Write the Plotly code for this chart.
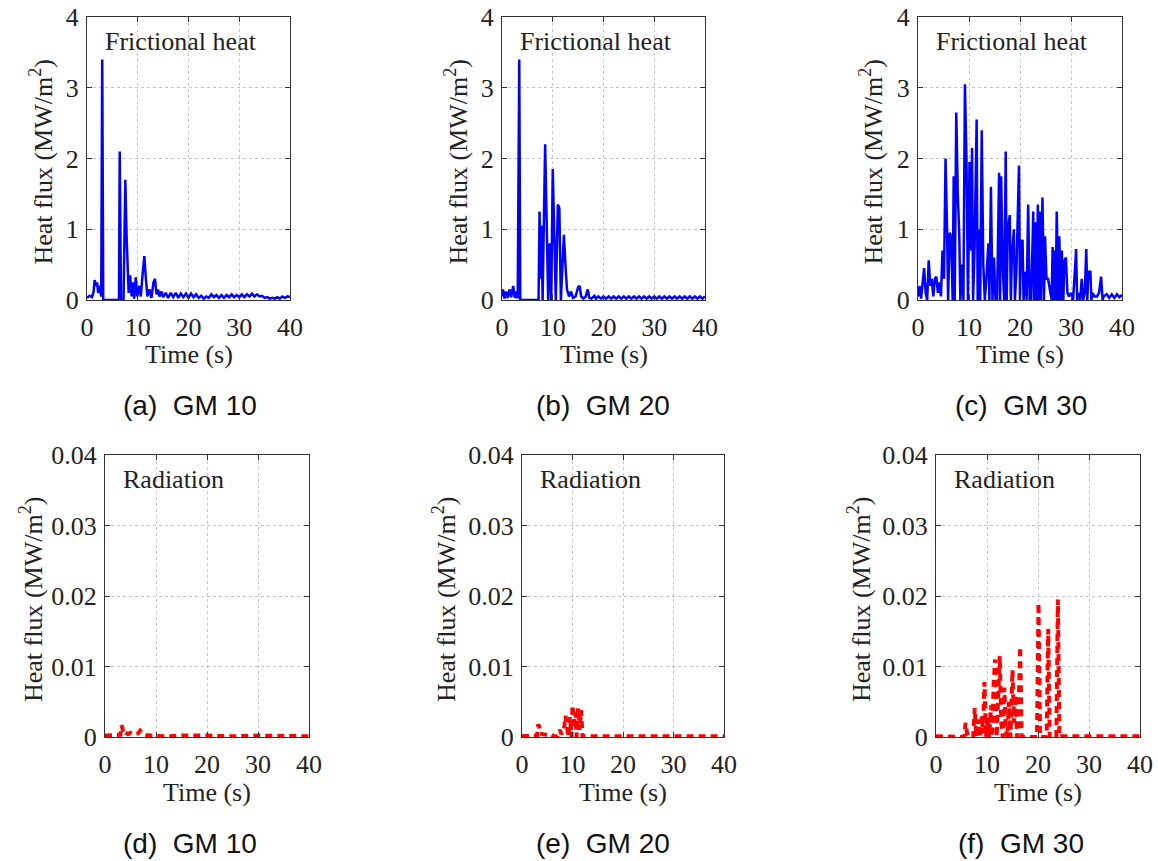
"""
Six-panel heat-flux figure: frictional heat (top, blue) and radiation
(bottom, red dashed) for ground motions GM 10, GM 20 and GM 30.
"""
import plotly.graph_objects as go

W, H = 1158, 861

# ---- data (time in s, heat flux in MW/m^2) ----
GM10_FRIC_T = [0, 0.5, 1.0, 1.3, 1.5, 1.8, 2.0, 2.2, 2.5, 2.8, 3.0, 3.2, 3.4, 6.3, 6.45, 6.7,
               7.2, 7.55, 7.8, 8.0, 8.2, 8.5, 8.8, 9.0, 9.3, 9.6, 9.9, 10.3, 10.6, 11.0, 11.3,
               11.6, 11.9, 12.3, 12.7, 13.1, 13.4, 13.7, 14.0, 14.3, 14.7, 15.0, 15.5, 16, 16.5,
               17, 17.5, 18, 18.5, 19, 19.5, 20, 20.5, 21, 21.5, 22, 22.5, 23, 23.5, 24, 24.5,
               25, 25.5, 26, 26.5, 27, 27.5, 28, 28.5, 29, 29.5, 30, 30.5, 31, 31.5, 32, 32.5,
               33, 33.5, 34, 34.5, 35, 35.5, 36, 36.5, 37, 37.5, 38, 38.5, 39, 39.5, 40]
GM10_FRIC_Q = [0.03, 0.06, 0.04, 0.12, 0.28, 0.2, 0.25, 0.1, 0.2, 0.05, 3.4, 0.0, 0.0, 0.0, 2.1, 0.0,
               0.0, 1.7, 0.9, 0.4, 0.1, 0.35, 0.05, 0.25, 0.02, 0.32, 0.05, 0.2, 0.05, 0.4, 0.62,
               0.3, 0.05, 0.15, 0.03, 0.25, 0.3, 0.08, 0.15, 0.05, 0.12, 0.04, 0.1, 0.03, 0.1,
               0.04, 0.1, 0.03, 0.09, 0.04, 0.09, 0.03, 0.09, 0.04, 0.08, 0.03, 0.06, 0.02, 0.05, 0.03, 0.08,
               0.04, 0.07, 0.03, 0.07, 0.03, 0.07, 0.04, 0.08, 0.04, 0.07, 0.04, 0.08, 0.04, 0.08, 0.05, 0.09,
               0.05, 0.08, 0.05, 0.06, 0.03, 0.04, 0.02, 0.03, 0.02, 0.04, 0.02, 0.05, 0.03, 0.05, 0.04]

GM20_FRIC_T = [0, 0.2, 0.5, 0.8, 1.1, 1.5, 1.8, 2.2, 2.5, 2.8, 3.1, 3.4, 3.6, 7.2, 7.4, 7.6, 7.8,
               8.0, 8.5, 8.8, 9.1, 9.4, 9.7, 10.0, 10.3, 10.6, 11.0, 11.3, 11.6, 11.9, 12.2, 12.5,
               12.8, 13.2, 13.6, 14.0, 14.5, 15.0, 15.3, 15.6, 16.0, 16.5, 16.9, 17.2, 17.6, 18.2,
               18.5, 19, 19.5, 20, 20.5, 21, 21.5, 22, 22.5, 23, 23.5, 24, 24.5, 25, 25.5, 26, 26.5,
               27, 27.5, 28, 28.5, 29, 29.5, 30, 30.5, 31, 31.5, 32, 32.5, 33, 33.5, 34, 34.5, 35,
               35.5, 36, 36.5, 37, 37.5, 38, 38.5, 39, 39.5, 40]
GM20_FRIC_Q = [0.05, 0.15, 0.02, 0.12, 0.03, 0.15, 0.04, 0.2, 0.03, 0.12, 0.02, 3.4, 0.0, 0.0, 1.25, 0.3, 1.05,
               0.0, 2.2, 1.2, 0.0, 0.8, 0.0, 1.85, 0.9, 0.0, 1.35, 1.3, 0.0, 0.6, 0.92, 0.5,
               0.15, 0.05, 0.12, 0.03, 0.05, 0.18, 0.2, 0.05, 0.02, 0.05, 0.15, 0.03, 0.02, 0.06,
               0.02, 0.05, 0.02, 0.05, 0.02, 0.05, 0.02, 0.05, 0.02, 0.05, 0.02, 0.05, 0.02, 0.05, 0.02, 0.05, 0.02,
               0.05, 0.02, 0.05, 0.02, 0.05, 0.02, 0.05, 0.02, 0.05, 0.02, 0.05, 0.02, 0.05, 0.02, 0.05, 0.02, 0.05,
               0.02, 0.05, 0.02, 0.05, 0.02, 0.05, 0.02, 0.05, 0.02, 0.05]

GM30_FRIC_T = [0.0, 0.3, 0.6, 0.9, 1.2, 1.5, 1.8, 2.1, 2.4, 2.7, 3.0, 3.3, 3.6, 3.9, 4.2, 4.5, 4.8,
               5.1, 5.4, 5.7, 5.9, 6.2, 6.5, 6.8, 7.0, 7.2, 7.5, 7.8, 8.1, 8.3, 8.6, 8.9, 9.2, 9.5,
               9.8, 10.1, 10.3, 10.6, 10.8, 11.1, 11.5, 11.7, 11.9, 12.2, 12.5, 12.8, 13.1, 13.4,
               13.8, 14.0, 14.3, 14.6, 14.9, 15.2, 15.5, 15.9, 16.1, 16.3, 16.6, 16.9, 17.2, 17.4,
               17.6, 18.0, 18.2, 18.4, 18.8, 19.0, 19.3, 19.8, 20.0, 20.2, 20.5, 20.7, 21.0, 21.3,
               21.6, 21.9, 22.2, 22.6, 22.8, 23.1, 23.3, 23.5, 23.7, 23.9, 24.1, 24.4, 24.7, 24.9,
               25.2, 25.5, 25.9, 26.2, 26.4, 26.6, 26.8, 27.0, 27.2, 27.5, 27.7, 28.0, 28.2, 28.5,
               28.7, 29.0, 29.3, 29.6, 30.0, 30.4, 30.8, 31.0, 31.2, 31.5, 31.8, 32.1, 32.4, 32.7,
               33.0, 33.2, 33.4, 33.8, 34.0, 34.2, 34.6, 35.1, 35.5, 35.9, 36.2, 36.4, 37, 37.5,
               38, 38.5, 39, 39.5, 40]
GM30_FRIC_Q = [0.05, 0.2, 0.02, 0.3, 0.45, 0.1, 0.0, 0.56, 0.2, 0.3, 0.05, 0.3, 0.33, 0.1, 0.25, 0.05, 0.7,
               0.3, 2.0, 1.0, 0.0, 0.95, 0.9, 0.0, 1.75, 0.0, 2.65, 1.5, 0.9, 0.0, 0.5, 0.0, 3.05, 2.0,
               0.0, 1.95, 0.7, 2.15, 0.0, 0.75, 2.55, 0.0, 1.0, 0.0, 2.4, 0.5, 0.0, 0.3,
               0.8, 0.0, 1.6, 0.0, 0.6, 0.0, 0.0, 1.8, 0.0, 1.75, 0.5, 0.0, 2.1, 0.0,
               1.0, 1.2, 0.0, 0.6, 1.0, 0.0, 0.4, 1.9, 0.0, 0.8, 0.85, 0.0, 0.4, 0.0,
               1.35, 0.0, 0.0, 1.25, 0.0, 1.1, 0.0, 1.35, 0.0, 1.25, 0.0, 1.45, 0.0, 0.9,
               0.3, 0.3, 0.1, 0.0, 0.75, 0.0, 0.7, 0.0, 1.25, 0.0, 0.9, 0.0, 0.7, 0.0,
               0.55, 0.6, 0.1, 0.05, 0.1, 0.0, 0.45, 0.72, 0.0, 0.1, 0.0, 0.3, 0.0, 0.1,
               0.72, 0.0, 0.4, 0.4, 0.0, 0.1, 0.05, 0.05, 0.1, 0.33, 0.0, 0.05, 0.08, 0.03,
               0.08, 0.03, 0.08, 0.04, 0.07]

GM10_RAD_T = [0, 1, 2, 3.0, 3.2, 3.4, 3.6, 4.0, 4.5, 5.0, 5.5, 6.0, 6.5, 6.9, 7.2, 7.6, 8.0, 9.0,
              12, 15, 20, 25, 30, 35, 40]
GM10_RAD_Q = [0.0002, 0.0002, 0.0003, 0.0003, 0.0016, 0.0014, 0.0004, 0.0006, 0.0004, 0.0006, 0.0004,
              0.0005, 0.0005, 0.0009, 0.0006, 0.0004, 0.0003, 0.0002,
              0.0001, 0.0002, 0.0002, 0.0001, 0.0002, 0.0001, 0.0001]

GM20_RAD_T = [0, 1, 2, 3.0, 3.2, 3.4, 3.6, 4.2, 5.0, 5.8, 6.3, 7.0, 7.5, 7.8, 8.3, 8.6, 8.9, 9.2,
              9.5, 9.8, 10.0, 10.3, 10.6, 10.8, 11.1, 11.4, 11.7, 12.0, 12.3, 20, 30, 40]
GM20_RAD_Q = [0.0001, 0.0002, 0.0002, 0.0002, 0.0018, 0.0015, 0.0005, 0.0004, 0.0003, 0.0004, 0.0001,
              0.0001, 0.001, 0.0004, 0.0009, 0.003, 0.0015, 0.0,
              0.0028, 0.0, 0.0045, 0.002, 0.0035, 0.0, 0.0041, 0.001, 0.0038, 0.0, 0.0001, 0.0001,
              0.0001, 0.0001]

GM30_RAD_T = [0, 5.0, 5.5, 5.8, 6.1, 6.5, 7.3, 7.6, 7.9, 8.3, 8.6, 9.0, 9.2, 9.5, 9.8, 10.1, 10.4,
              10.8, 11.0, 11.3, 11.6, 11.9, 12.2, 12.5, 12.8, 13.1, 13.4, 13.7, 14.0, 14.3, 14.6,
              15.0, 15.3, 15.6, 15.9, 16.2, 16.5, 16.8, 17.5, 19.0, 19.8, 20.1, 20.4, 21.0, 21.7,
              22.0, 22.3, 23.0, 23.6, 23.9, 24.2, 24.5, 30, 40]
GM30_RAD_Q = [0.0001, 0.0001, 0.0, 0.002, 0.0005, 0.0, 0.0, 0.0041, 0.0, 0.0025, 0.0, 0.003, 0.0005,
              0.0078, 0.0, 0.003, 0.0, 0.0045, 0.0, 0.0075, 0.011, 0.0, 0.006, 0.0115, 0.002, 0.0,
              0.007, 0.001, 0.0, 0.005, 0.0, 0.0095, 0.002, 0.006, 0.0, 0.004, 0.0128, 0.0, 0.0,
              0.0, 0.0, 0.019, 0.0, 0.0, 0.0, 0.0153, 0.0, 0.0, 0.0, 0.0195, 0.0, 0.0001, 0.0001,
              0.0001]

TOP_TICKS = [0, 1, 2, 3, 4]
TOP_TICK_TEXT = ["0", "1", "2", "3", "4"]
BOTTOM_TICKS = [0, 0.01, 0.02, 0.03, 0.04]
BOTTOM_TICK_TEXT = ["0", "0.01", "0.02", "0.03", "0.04"]
X_TICKS = [0, 10, 20, 30, 40]

CAPTIONS = ["(a)\u00a0 GM 10", "(b)\u00a0 GM 20", "(c)\u00a0 GM 30",
            "(d)\u00a0 GM 10", "(e)\u00a0 GM 20", "(f)\u00a0 GM 30"]

# ---- layout: plot boxes in pixels (left, right, top, bottom) ----
BOXES = [(87, 290, 17, 300), (502, 705, 17, 300), (918, 1122, 17, 300),
         (105, 309, 455, 737), (522, 724, 455, 737), (936, 1140, 455, 737)]
YTITLE_X = [42, 457, 872, 31, 444, 859]
CAPTION_X = [190, 603, 1021, 190, 603, 1021]

SERIF = "Liberation Serif, Times New Roman, serif"
SANS = "Liberation Sans, Arial, sans-serif"
TEXT_COLOR = "#222222"
BLUE = "#0000ff"
RED = "#ff0000"


def px(x):
    return x / W


def py(y):
    return 1 - y / H


def main():
    series = [
        (GM10_FRIC_T, GM10_FRIC_Q, "Frictional heat"),
        (GM20_FRIC_T, GM20_FRIC_Q, "Frictional heat"),
        (GM30_FRIC_T, GM30_FRIC_Q, "Frictional heat"),
        (GM10_RAD_T, GM10_RAD_Q, "Radiation"),
        (GM20_RAD_T, GM20_RAD_Q, "Radiation"),
        (GM30_RAD_T, GM30_RAD_Q, "Radiation"),
    ]

    fig = go.Figure()
    annotations = []
    for i, ((t, q, label), box) in enumerate(zip(series, BOXES)):
        n = i + 1
        top_row = i < 3
        left, right, top, bottom = box
        xa = "x" if n == 1 else f"x{n}"
        ya = "y" if n == 1 else f"y{n}"

        fig.add_trace(go.Scatter(
            x=t, y=q, mode="lines", xaxis=xa, yaxis=ya, showlegend=False,
            line=dict(color=BLUE, width=2.5) if top_row
            else dict(color=RED, width=4, dash="7px,5px"),
        ))

        fig.layout[f"xaxis{n}"] = dict(
            domain=[px(left), px(right)], anchor=ya, range=[0, 40],
            tickvals=X_TICKS, ticklabelstandoff=4,
        )
        fig.layout[f"yaxis{n}"] = dict(
            domain=[py(bottom), py(top)], anchor=xa,
            range=[0, 4] if top_row else [0, 0.04],
            tickvals=TOP_TICKS if top_row else BOTTOM_TICKS,
            ticktext=TOP_TICK_TEXT if top_row else BOTTOM_TICK_TEXT,
            ticklabelstandoff=2,
        )

        # panel label inside the box
        annotations.append(dict(
            text=label, x=px(left + 16), y=py(top + 24), xref="paper", yref="paper",
            xanchor="left", yanchor="middle", showarrow=False,
            font=dict(family=SERIF, size=26, color=TEXT_COLOR),
        ))
        # y title
        annotations.append(dict(
            text="Heat flux (MW/m<sup>2</sup>)", x=px(YTITLE_X[i]), y=py((top + bottom) / 2 + 3),
            xref="paper", yref="paper", xanchor="center", yanchor="middle", textangle=-90,
            showarrow=False, font=dict(family=SERIF, size=26, color=TEXT_COLOR),
        ))
        # x title
        annotations.append(dict(
            text="Time (s)", x=px((left + right) / 2), y=py(bottom + 55),
            xref="paper", yref="paper", xanchor="center", yanchor="middle",
            showarrow=False, font=dict(family=SERIF, size=26, color=TEXT_COLOR),
        ))
        # sub-figure caption
        annotations.append(dict(
            text=CAPTIONS[i], x=px(CAPTION_X[i]), y=py(405 if top_row else 843),
            xref="paper", yref="paper", xanchor="center", yanchor="middle",
            showarrow=False, font=dict(family=SANS, size=28, color="#111111"),
        ))

    axis_style = dict(
        automargin=False, showline=True, linecolor="#333333", linewidth=1, mirror="ticks",
        ticks="inside", ticklen=5, tickcolor="#333333",
        showgrid=True, gridcolor="#c4c4c4", gridwidth=1, griddash="dot",
        zeroline=False, tickfont=dict(family=SERIF, size=26, color=TEXT_COLOR),
    )
    fig.update_xaxes(**axis_style)
    fig.update_yaxes(**axis_style)

    fig.update_layout(
        template="none",
        width=W, height=H, margin=dict(l=0, r=0, t=0, b=0, autoexpand=False),
        font=dict(family=SERIF, size=26, color=TEXT_COLOR),
        paper_bgcolor="white", plot_bgcolor="white",
        annotations=annotations,
    )
    # the page's default body margin would push the figure 8 px off its place
    fig.write_html(
        "out.html",
        config={"displayModeBar": False},
        post_script="document.body.style.margin = '0'; document.body.style.overflow = 'hidden';",
    )


if __name__ == "__main__":
    main()
